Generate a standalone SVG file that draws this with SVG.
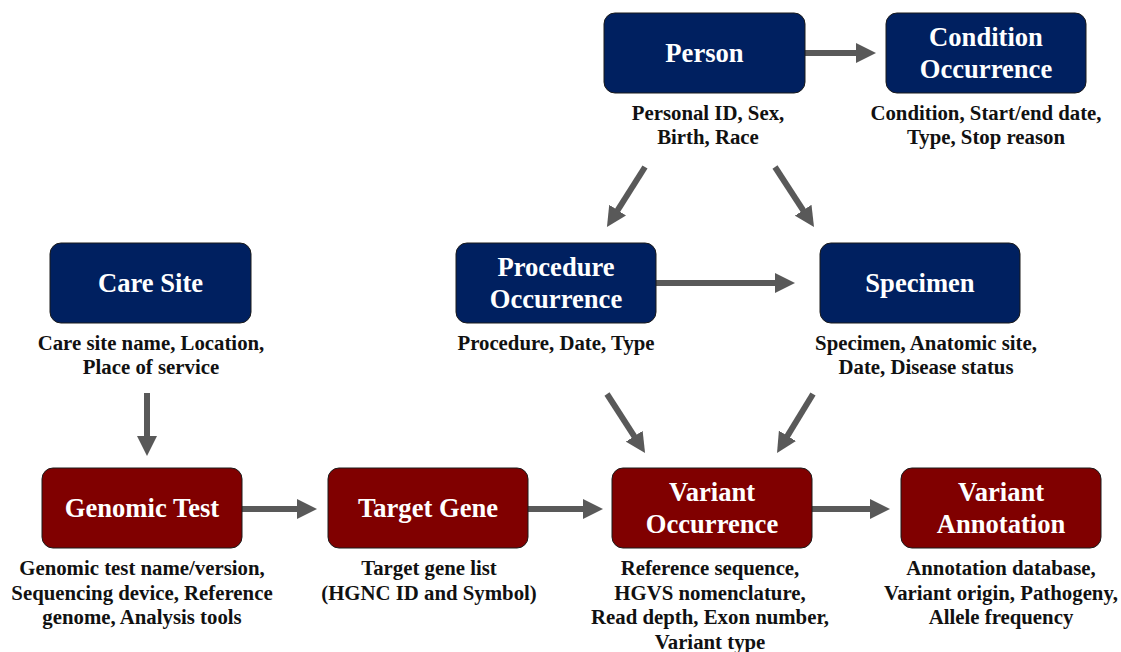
<svg xmlns="http://www.w3.org/2000/svg" width="1121" height="652" viewBox="0 0 1121 652">
<style>
.box{stroke:#1a1a1a;stroke-width:1}
.blue{fill:#002060}
.red{fill:#800000}
.title{font-family:"Liberation Serif","Times New Roman",serif;font-weight:bold;font-size:26.6px;fill:#ffffff;text-anchor:middle}
.desc{font-family:"Liberation Serif","Times New Roman",serif;font-weight:bold;font-size:20.8px;fill:#111111;text-anchor:middle}
.conn line{stroke:#595959;stroke-width:6;marker-end:url(#ah)}
</style>
<defs>
<marker id="ah" markerUnits="userSpaceOnUse" viewBox="0 0 20 20" markerWidth="20" markerHeight="20" refX="2" refY="10" orient="auto">
<path d="M0,0 L20,10 L0,20 z" fill="#595959"/>
</marker>
</defs>
<rect width="1121" height="652" fill="#ffffff"/>
<g id="connectors" class="conn">
<line x1="805" y1="53" x2="858" y2="53"/>
<line x1="645" y1="167" x2="616.6" y2="211.8"/>
<line x1="775" y1="167" x2="804.2" y2="211.9"/>
<line x1="656" y1="283" x2="777" y2="283"/>
<line x1="147" y1="393" x2="147" y2="438"/>
<line x1="242" y1="509" x2="299" y2="509"/>
<line x1="528" y1="509" x2="585" y2="509"/>
<line x1="812" y1="509" x2="872" y2="509"/>
<line x1="607" y1="394" x2="635.3" y2="437.9"/>
<line x1="813" y1="394" x2="786.4" y2="437.6"/>
</g>
<g id="person">
<rect class="box blue" x="604" y="13" width="201" height="80" rx="11"/>
<text class="title" x="704.5" y="62">Person</text>
<text class="desc" x="708" y="120">Personal ID, Sex,</text>
<text class="desc" x="708" y="144">Birth, Race</text>
</g>
<g id="condition">
<rect class="box blue" x="886" y="13" width="200" height="80" rx="11"/>
<text class="title" x="986" y="46">Condition</text>
<text class="title" x="986" y="78">Occurrence</text>
<text class="desc" x="986" y="120">Condition, Start/end date,</text>
<text class="desc" x="986" y="144">Type, Stop reason</text>
</g>
<g id="caresite">
<rect class="box blue" x="50" y="243" width="201" height="80" rx="11"/>
<text class="title" x="150.5" y="292">Care Site</text>
<text class="desc" x="151" y="350">Care site name, Location,</text>
<text class="desc" x="151" y="374">Place of service</text>
</g>
<g id="procedure">
<rect class="box blue" x="456" y="243" width="200" height="80" rx="11"/>
<text class="title" x="556" y="276">Procedure</text>
<text class="title" x="556" y="308">Occurrence</text>
<text class="desc" x="556" y="350">Procedure, Date, Type</text>
</g>
<g id="specimen">
<rect class="box blue" x="820" y="243" width="200" height="80" rx="11"/>
<text class="title" x="920" y="292">Specimen</text>
<text class="desc" x="926" y="350">Specimen, Anatomic site,</text>
<text class="desc" x="926" y="374">Date, Disease status</text>
</g>
<g id="genomictest">
<rect class="box red" x="42" y="468" width="200" height="80" rx="11"/>
<text class="title" x="142" y="517">Genomic Test</text>
<text class="desc" x="142" y="575">Genomic test name/version,</text>
<text class="desc" x="142" y="599.5">Sequencing device, Reference</text>
<text class="desc" x="142" y="624">genome, Analysis tools</text>
</g>
<g id="targetgene">
<rect class="box red" x="328" y="468" width="200" height="80" rx="11"/>
<text class="title" x="428" y="517">Target Gene</text>
<text class="desc" x="429" y="575">Target gene list</text>
<text class="desc" x="429" y="599.5">(HGNC ID and Symbol)</text>
</g>
<g id="variantoccurrence">
<rect class="box red" x="612" y="468" width="200" height="80" rx="11"/>
<text class="title" x="712" y="501">Variant</text>
<text class="title" x="712" y="533">Occurrence</text>
<text class="desc" x="710" y="575">Reference sequence,</text>
<text class="desc" x="710" y="599.5">HGVS nomenclature,</text>
<text class="desc" x="710" y="624">Read depth, Exon number,</text>
<text class="desc" x="710" y="648.5">Variant type</text>
</g>
<g id="variantannotation">
<rect class="box red" x="901" y="468" width="200" height="80" rx="11"/>
<text class="title" x="1001" y="501">Variant</text>
<text class="title" x="1001" y="533">Annotation</text>
<text class="desc" x="1001" y="575">Annotation database,</text>
<text class="desc" x="1001" y="599.5">Variant origin, Pathogeny,</text>
<text class="desc" x="1001" y="624">Allele frequency</text>
</g>
</svg>
